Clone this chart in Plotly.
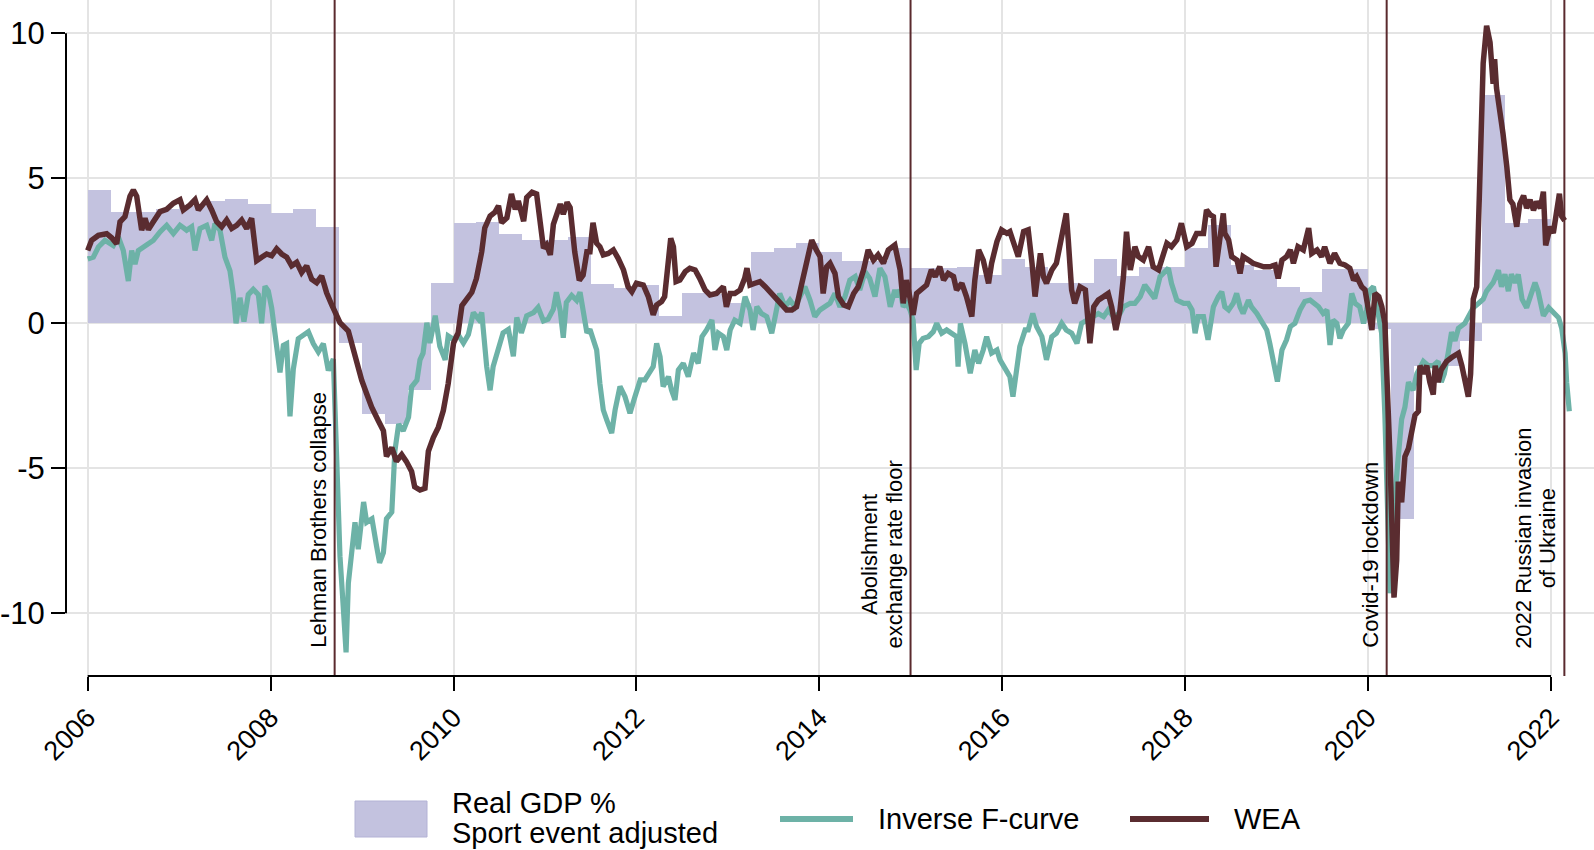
import plotly.graph_objects as go

# ---------------- data ----------------
# Real GDP growth, sport event adjusted (quarterly, first quarter = 2006 Q1)
gdp_first_year = 2006
gdp_growth = [4.60, 3.83, 3.85, 3.95,
              4.05, 4.20, 4.29, 4.10,
              3.79, 3.93, 3.32, -0.68,
              -3.13, -3.48, -2.31, 1.39,
              3.47, 3.50, 3.08, 2.88,
              2.88, 2.96, 1.37, 1.21,
              1.32, 0.26, 1.03, 1.00,
              0.71, 2.45, 2.59, 2.78,
              2.47, 2.15, 2.15, 2.59,
              1.90, 1.90, 1.93, 1.65,
              2.21, 1.93, 1.40, 1.40,
              2.21, 1.63, 1.95, 1.95,
              2.59, 3.39, 2.00, 1.84,
              1.26, 1.09, 1.86, 1.86,
              -0.20, -6.74, -1.46, -1.46,
              -0.60, 7.86, 3.47, 3.61]

# WEA: months elapsed since January 2006, and values
wea_month = [0.0, 0.52, 1.40, 2.49, 3.14, 3.80, 4.24, 4.89, 5.55, 5.99, 6.43, 7.08, 7.52, 7.96, 8.61, 9.49,
             10.36, 11.24, 12.11, 12.55, 13.42, 14.08, 14.52, 15.17, 15.61, 16.27, 16.92, 17.58, 18.23, 18.89,
             19.55, 20.2, 20.86, 21.51, 22.17, 22.82, 23.48, 24.14, 24.79, 25.45, 26.11, 26.76, 27.42, 28.07,
             28.73, 29.39, 30.04, 30.7, 31.35, 32.01, 32.67, 33.1, 34.2, 34.85, 35.3, 35.95, 36.6, 37.26,
             38.13, 38.8, 39.2, 39.9, 40.5, 41.2, 41.8, 42.5, 42.9, 43.6, 44.25, 44.7, 45.35, 46.0, 46.66,
             47.3, 48.0, 48.6, 49.1, 49.7, 50.4, 51.0, 51.7, 52.1, 52.8, 53.4, 53.9, 54.3, 55.0, 55.6, 56.1,
             56.5, 57.2, 57.6, 58.3, 58.9, 59.3, 59.8, 60.2, 60.7, 61.1, 62.0, 62.4, 62.9, 63.3, 63.9, 64.5,
             65.0, 65.5, 65.9, 66.3, 66.78, 67.2, 67.65, 68.3, 68.97, 69.6, 70.3, 70.9, 71.4, 72.0, 72.9,
             73.56, 74.2, 74.65, 75.3, 75.7, 76.2, 76.5, 76.85, 77.2, 77.7, 78.4, 79.0, 79.7, 80.3, 81.0,
             81.65, 82.5, 83.4, 83.8, 84.3, 84.9, 85.6, 86.2, 86.5, 86.9, 87.55, 88.2, 88.9, 89.75, 90.4,
             91.05, 91.7, 92.4, 93.0, 93.7, 94.3, 95.0, 95.6, 96.1, 96.5, 96.96, 97.4, 98.05, 98.5, 99.2,
             99.8, 100.5, 101.1, 101.8, 102.4, 103.1, 103.7, 104.4, 105.05, 105.9, 106.6, 107.0, 107.45,
             107.9, 108.3, 108.76, 109.4, 110.07, 110.7, 111.2, 111.8, 112.3, 112.9, 113.6, 114.0, 114.7,
             115.3, 116.0, 116.4, 116.9, 117.5, 118.2, 118.6, 119.3, 119.9, 120.6, 121.0, 121.5, 122.1,
             122.8, 123.4, 123.9, 124.3, 125.0, 125.4, 125.8, 126.5, 127.1, 127.8, 128.4, 128.66, 129.1,
             129.5, 130.2, 130.9, 131.5, 132.0, 132.6, 133.3, 133.9, 134.35, 134.9, 135.45, 135.9, 136.3,
             136.8, 137.4, 137.85, 138.5, 139.2, 139.8, 140.5, 140.9, 141.6, 142.2, 142.9, 143.5, 144.2,
             144.9, 145.5, 146.4, 146.8, 147.3, 147.7, 148.05, 148.6, 149.0, 149.2, 149.7, 150.1, 150.8,
             151.2, 151.6, 152.3, 152.9, 153.6, 154.3, 155.1, 155.8, 156.2, 156.7, 157.3, 157.8, 158.2,
             158.8, 159.5, 160.2, 160.6, 161.3, 161.9, 162.3, 163.0, 163.6, 164.3, 164.96, 165.6, 166.1,
             166.5, 167.16, 167.6, 168.0, 168.5, 168.9, 169.4, 169.8, 170.2, 170.87, 171.4, 171.75, 171.96,
             172.4, 172.83, 173.3, 173.7, 174.15, 174.6, 174.8, 175.25, 175.7, 176.1, 176.55, 176.8, 177.2,
             177.6, 178.3, 179.0, 179.85, 180.3, 180.7, 181.15, 181.45, 181.8, 182.25, 182.7, 183.1, 183.55,
             184.0, 184.4, 184.6, 184.85, 185.3, 185.7, 186.2, 186.6, 187.0, 187.5, 187.9, 188.4, 188.8,
             189.25, 189.7, 190.1, 190.6, 191.0, 191.3, 191.9, 192.3, 192.8, 193.1, 193.4, 193.8]
wea_value = [2.51, 2.86, 3.03, 3.09, 2.95, 2.74, 3.50, 3.68, 4.38, 4.59, 4.38, 3.21, 3.62, 3.23, 3.50, 3.85,
             3.93, 4.14, 4.26, 3.91, 4.08, 4.26, 3.91, 4.14, 4.26, 3.91, 3.50, 3.33, 3.56, 3.27,
             3.38, 3.56, 3.27, 3.62, 2.16, 2.28, 2.39, 2.33, 2.57, 2.39, 2.28, 1.98, 2.10, 1.75,
             1.98, 1.52, 1.40, 1.63, 1.05, 0.64, 0.29, 0.02, -0.27, -0.91, -1.26, -1.96, -2.43, -2.89,
             -3.36, -3.71, -4.59, -4.29, -4.76, -4.53, -4.76, -5.11, -5.64, -5.75, -5.69, -4.41, -3.94, -3.59, -3.01,
             -2.08, -0.68, -0.33, 0.61, 0.84, 1.07, 1.54, 2.47, 3.29, 3.70, 3.82, 4.05, 3.47, 3.64, 4.46, 3.93,
             4.22, 3.52, 4.34, 4.52, 4.46, 3.64, 2.59, 2.71, 2.36, 3.41, 4.11, 3.76, 4.17, 3.99, 2.47, 1.48,
             1.66, 2.47, 2.47, 3.47, 2.76, 2.64, 2.36, 2.41, 2.53, 2.24, 1.84, 1.26, 1.09, 1.38, 1.32,
             0.92, 0.29, 0.63, 0.75, 0.92, 2.53, 2.93, 2.64, 1.44, 1.49, 1.78, 1.90, 1.84, 1.55, 1.15,
             0.98, 1.03, 1.26, 0.57, 1.03, 1.03, 1.15, 1.55, 1.90, 1.32, 1.38, 1.44, 1.26, 1.03, 0.80,
             0.63, 0.46, 0.46, 0.57, 1.38, 2.18, 2.87, 2.53, 2.30, 1.03, 1.95, 2.07, 1.72, 0.92, 0.63,
             0.57, 1.03, 1.26, 1.84, 2.53, 2.18, 2.36, 2.07, 2.53, 2.70, 1.84, 0.69, 1.49,
             0.92, 0.29, 1.03, 1.15, 1.32, 1.84, 1.61, 1.95, 1.49, 1.72, 1.61, 1.15, 1.38,
             0.92, 0.23, 1.49, 2.53, 2.18, 1.38, 2.07, 2.82, 3.22, 3.10, 3.16, 2.76, 2.30,
             3.16, 3.22, 2.07, 0.92, 2.41, 1.61, 1.38, 1.84, 2.07, 2.99, 3.79, 2.87, 1.15,
             0.69, 1.26, 1.15, -0.69, 0.57, 0.80, 0.92, 1.03, 0.57, -0.23, 0.46, 1.61, 3.16,
             1.84, 2.64, 2.30, 2.18, 2.64, 1.95, 1.84, 2.18, 2.76, 2.64, 2.87, 3.45, 2.64,
             2.76, 3.10, 3.10, 3.91, 3.74, 3.68, 1.95, 2.99, 3.79, 3.10, 2.87, 2.30, 2.18,
             1.72, 2.30, 2.18, 2.07, 2.01, 1.95, 1.95, 2.01, 1.55, 2.18, 2.30, 2.53, 2.07,
             2.64, 2.53, 3.28, 2.41, 2.53, 2.30, 2.64, 2.07, 2.41, 2.07, 2.01, 1.90, 1.49,
             1.61, 1.26, 1.15, 0.46, -0.23, 1.03, 0.92, 0.57, 0.0, -4.60, -9.46, -8.17, -5.46,
             -6.17, -4.60, -4.31, -3.74, -3.17, -3.03, -1.46, -1.74, -1.46, -2.03, -2.46, -1.46, -2.03,
             -1.60, -1.31, -1.17, -1.03, -1.46, -2.03, -2.53, -1.74, 0.83, 1.26, 4.83, 8.97, 10.26,
             9.69, 8.26, 9.11, 8.11, 7.40, 6.54, 5.40, 4.26, 4.11, 3.33, 4.11, 4.40, 3.97,
             4.26, 3.90, 4.19, 3.97, 4.54, 2.69, 3.33, 3.11, 3.83, 4.47, 3.69, 3.54]

# Inverse F-curve: months elapsed since January 2006, and values
fcurve_month = [0.0, 0.74, 1.40, 2.27, 3.36, 4.02, 4.67, 5.33, 5.77, 6.21, 6.64, 7.3, 7.96, 8.61, 9.49,
                10.36, 11.24, 12.11, 12.98, 13.64, 14.08, 14.73, 15.61, 16.27, 16.7, 17.36, 18.01, 18.67,
                19.11, 19.46, 19.98, 20.5, 21.07, 21.73, 22.39, 22.82, 23.26, 23.7, 24.14, 24.57, 25.23,
                25.67, 26.1, 26.54, 26.98, 27.63, 28.51, 28.95, 29.6, 30.26, 30.92, 31.57, 32.23, 32.67,
                33.1, 33.5, 33.9, 34.2, 34.6, 35.07, 35.5, 36.2, 36.6, 37.3, 37.9, 38.3, 38.8, 39.2, 39.9,
                40.3, 40.8, 41.4, 42.1, 42.5, 43.2, 43.6, 44.0, 44.5, 44.9, 45.6, 46.2, 46.9, 47.3, 48.0,
                48.6, 49.3, 49.95, 50.6, 51.3, 51.7, 52.35, 52.8, 53.2, 53.9, 54.5, 55.2, 55.85, 56.3, 56.9,
                57.6, 58.5, 59.1, 59.8, 60.4, 61.1, 61.5, 62.0, 62.4, 62.8, 63.5, 64.15, 64.6, 65.0, 65.5,
                65.9, 66.3, 66.78, 67.2, 67.65, 68.1, 68.75, 69.2, 69.84, 70.5, 71.15, 71.8, 72.5, 73.1,
                73.8, 74.2, 74.65, 75.1, 75.5, 76.2, 76.6, 77.06, 77.5, 78.15, 78.8, 79.5, 80.1, 80.6,
                81.2, 81.9, 82.3, 82.75, 83.4, 83.85, 84.3, 84.9, 85.6, 86.25, 86.9, 87.3, 87.8, 88.4,
                89.1, 89.75, 90.2, 90.8, 91.5, 92.15, 92.8, 93.5, 94.1, 94.77, 95.4, 96.07, 96.7, 97.4,
                98.05, 98.7, 99.36, 100.0, 100.7, 101.3, 102.0, 102.6, 103.3, 103.95, 104.6, 105.3, 105.9,
                106.1, 106.6, 107.0, 107.45, 107.9, 108.3, 108.7, 109.1, 109.6, 110.3, 110.95, 111.4,
                112.05, 112.7, 113.6, 114.0, 114.2, 114.5, 115.1, 115.8, 116.4, 116.9, 117.5, 117.95,
                118.6, 119.3, 119.7, 120.4, 121.0, 121.4, 121.9, 122.3, 123.0, 123.4, 124.0, 124.5,
                125.2, 125.8, 126.5, 127.1, 127.8, 128.4, 129.1, 129.8, 130.4, 131.1, 132.0, 132.6,
                133.3, 133.9, 134.6, 135.45, 135.9, 136.8, 137.4, 138.1, 138.7, 139.4, 140.0, 140.7,
                141.1, 141.8, 142.2, 142.9, 143.8, 144.4, 144.9, 145.3, 145.7, 146.4, 147.0, 147.7,
                148.35, 148.8, 149.2, 149.7, 150.3, 150.75, 151.2, 151.6, 152.3, 152.7, 153.4, 154.0,
                154.7, 155.1, 155.6, 156.1, 156.7, 157.3, 157.8, 158.4, 159.07, 159.7, 160.4, 161.0,
                161.5, 162.1, 162.6, 163.0, 163.4, 163.9, 164.3, 164.75, 165.4, 165.85, 166.3, 166.9,
                167.4, 167.8, 168.25, 168.7, 169.1, 169.77, 170.2, 170.65, 170.87, 171.3, 171.5, 171.96,
                172.4, 172.83, 173.3, 173.9, 174.4, 175.25, 175.9, 176.55, 177.2, 177.6, 178.0, 178.5,
                178.95, 179.4, 179.85, 180.7, 181.8, 182.5, 183.1, 183.55, 184.4, 185.1, 185.5, 185.95,
                186.4, 186.8, 187.3, 187.7, 188.2, 188.8, 189.5, 189.9, 190.3, 191.0, 191.7, 192.3,
                193.0, 193.4, 193.85, 194.05, 194.4]
fcurve_value = [2.22, 2.28, 2.63, 2.86, 2.68, 2.98, 2.51, 1.46, 2.51, 2.04, 2.51, 2.63, 2.74, 2.86, 3.15,
                3.38, 3.09, 3.38, 3.21, 3.33, 2.51, 3.27, 3.38, 2.86, 3.44, 3.21, 2.28, 1.81,
                0.99, 0.0, 0.88, 0.06, 0.99, 1.17, 0.99, 0.0, 1.28, 1.11, 0.53, -0.29, -1.69,
                -0.76, -0.70, -3.21, -1.58, -0.53, -0.35, -0.29, -0.70, -0.99, -0.70, -1.63, -1.23, -5.23,
                -8.03, -9.66, -11.35, -8.96, -7.79, -6.86, -7.79, -6.16, -6.86, -6.74, -7.68, -8.26, -7.91, -6.74, -6.51,
                -4.41, -3.48, -3.71, -3.24, -2.19, -1.96, -1.26, -1.03, 0.02, -0.68, 0.26, -0.79, -1.26, -0.44, -0.56,
                -0.39, -0.68, -0.39, 0.37, 0.14, 0.37, -1.49, -2.31, -1.49, -0.79, -0.33, -0.21, -1.14, 0.20, -0.33,
                0.26, 0.37, 0.55, 0.08, 0.14, 0.49, 1.07, 0.43, -0.50, 0.72, 0.96, 0.79, 1.07, 0.37, -0.33,
                -0.21, -0.56, -0.92, -2.07, -2.99, -3.33, -3.79, -2.99, -2.18, -2.53, -3.10, -2.53, -1.95, -1.95,
                -1.67, -1.49, -0.69, -1.15, -2.18, -1.84, -2.30, -2.64, -1.61, -1.38, -1.84, -1.03, -1.38, -0.46,
                -0.23, 0.11, -0.92, -0.34, -0.46, -0.92, -0.23, 0.11, 0.0, 0.92, 0.46, -0.23, 0.57, 0.34,
                0.23, -0.34, 0.23, 1.03, 0.57, 0.80, 0.57, 0.92, 1.26, 0.80, 0.23, 0.46, 0.57, 0.69,
                1.03, 0.57, 0.92, 1.49, 1.61, 1.15, 1.78, 1.55, 0.92, 1.90, 1.61, 0.57, 1.15,
                0.92, 1.15, 0.57, 0.69, 0.46, 0.11, -1.61, -0.69, -0.52, -0.46, -0.29, 0.0,
                -0.34, -0.23, -0.40, -0.46, -1.49, 0.0, -0.69, -1.72, -0.92, -1.38, -0.92, -0.46,
                -1.03, -0.92, -1.26, -1.61, -1.84, -2.53, -1.49, -0.80, -0.23, -0.23, 0.34, -0.11,
                -0.46, -1.26, -0.46, -0.34, 0.0, -0.23, -0.34, -0.69, 0.0, 0.11, 0.23, 0.34,
                0.23, 0.46, 0.23, 0.34, 0.57, 0.69, 0.69, 0.92, 1.32, 1.03, 0.86, 1.61,
                1.72, 1.90, 1.38, 0.80, 0.69, 0.69, 0.46, -0.34, 0.23, 0.23, -0.57, 0.57,
                0.92, 1.09, 0.57, 0.46, 0.69, 1.03, 0.57, 0.34, 0.80, 0.57, 0.34, 0.11,
                -0.23, -0.69, -1.26, -2.01, -0.92, -0.57, -0.11, 0.0, 0.46, 0.75, 0.80, 0.69,
                0.57, 0.34, 0.46, -0.75, 0.11, 0.0, -0.52, -0.23, 0.0, 1.03, 0.69, 0.57,
                0.0, 0.46, 1.15, 1.26, 0.57, -0.34, -3.17, -7.46, -9.31, -7.46, -6.03, -4.60,
                -3.31, -2.89, -2.03, -2.31, -1.74, -1.31, -1.46, -1.46, -1.31, -2.03, -1.74, -1.03,
                -0.31, -0.60, -0.17, 0.0, 0.54, 0.69, 0.83, 1.11, 1.40, 1.83, 1.26, 1.69,
                1.11, 1.69, 1.40, 1.69, 0.83, 0.54, 1.11, 1.40, 1.11, 0.26, 0.54, 0.40,
                0.19, -0.17, -1.03, -2.03, -3.03]

# Event markers (decimal years) and their label lines
event_year = [2008.70, 2014.997, 2020.203, 2022.146]
event_lines = [["Lehman Brothers collapse"],
               ["Abolishment", "exchange rate floor"],
               ["Covid-19 lockdown"],
               ["2022 Russian invasion", "of Ukraine"]]

x_tick_years = [2006, 2008, 2010, 2012, 2014, 2016, 2018, 2020, 2022]
y_tick_values = [-10, -5, 0, 5, 10]
y_tick_labels = ["-10", "-5", "0", "5", "10"]

legend_labels = ["Real GDP %", "Sport event adjusted", "Inverse F-curve", "WEA"]

# ---------------- styling ----------------
W, H = 1594, 850
M_L, M_R, M_T, M_B = 66, 0, 0, 174
PW, PH = W - M_L - M_R, H - M_T - M_B
FONT = "Liberation Sans, Arial, Helvetica, sans-serif"
BAR_COLOR = "#c3c2df"
TEAL = "#6db2a7"
MAROON = "#5a2c30"
EVENT_COLOR = "#5a2a2e"
GRID = "#e4e4e4"


def px_x(px):
    return (px - M_L) / PW


def px_y(py):
    return (H - M_B - py) / PH


gdp_x = [gdp_first_year + 0.25 * i + 0.125 for i in range(len(gdp_growth))]
wea_x = [gdp_first_year + m / 12.0 for m in wea_month]
fc_x = [gdp_first_year + m / 12.0 for m in fcurve_month]

fig = go.Figure()
fig.add_trace(go.Bar(x=gdp_x, y=gdp_growth, width=0.25,
                     marker=dict(color=BAR_COLOR, line=dict(width=0)),
                     showlegend=False, hoverinfo="skip"))
fig.add_trace(go.Scatter(x=fc_x, y=fcurve_value, mode="lines",
                         line=dict(color=TEAL, width=5.2), showlegend=False))
fig.add_trace(go.Scatter(x=wea_x, y=wea_value, mode="lines",
                         line=dict(color=MAROON, width=5.5), showlegend=False))

shapes = []
# event lines
for ex in event_year:
    shapes.append(dict(type="line", xref="x", yref="paper", x0=ex, x1=ex, y0=0, y1=1,
                       line=dict(color=EVENT_COLOR, width=2), layer="above"))
# axis lines (only span the tick range, Stata style)
shapes.append(dict(type="line", xref="x", yref="paper", x0=x_tick_years[0], x1=x_tick_years[-1],
                   y0=0, y1=0, line=dict(color="black", width=2)))
shapes.append(dict(type="line", xref="paper", yref="y", x0=0, x1=0,
                   y0=y_tick_values[0], y1=y_tick_values[-1], line=dict(color="black", width=2)))

# manual legend
shapes.append(dict(type="rect", xref="paper", yref="paper",
                   x0=px_x(355), x1=px_x(427), y0=px_y(837), y1=px_y(801),
                   fillcolor=BAR_COLOR, line=dict(color="#b3b2d5", width=1)))
shapes.append(dict(type="line", xref="paper", yref="paper",
                   x0=px_x(780), x1=px_x(853), y0=px_y(819), y1=px_y(819),
                   line=dict(color=TEAL, width=6)))
shapes.append(dict(type="line", xref="paper", yref="paper",
                   x0=px_x(1130), x1=px_x(1209), y0=px_y(819), y1=px_y(819),
                   line=dict(color=MAROON, width=6)))

annotations = []
leg_font = dict(family=FONT, size=29, color="black")
for text, lx, ly in [(legend_labels[0], 450, 803), (legend_labels[1], 450, 833),
                     (legend_labels[2], 876, 819), (legend_labels[3], 1232, 819)]:
    annotations.append(dict(text=text, xref="paper", yref="paper", x=px_x(lx), y=px_y(ly),
                            xanchor="left", yanchor="middle", showarrow=False, font=leg_font))

# event labels: rotated text to the left of each line
ev_font = dict(family=FONT, size=22, color="black")
ev_center_px = [520, 555, 555, 538]
for ex, lines, cy in zip(event_year, event_lines, ev_center_px):
    n = len(lines)
    for i, t in enumerate(lines):
        shift = -17 - 24.5 * (n - 1 - i)
        annotations.append(dict(text=t, x=ex, xref="x", y=px_y(cy), yref="paper",
                                xshift=shift, textangle=-90, xanchor="center", yanchor="middle",
                                showarrow=False, font=ev_font))

fig.update_layout(
    width=W, height=H,
    margin=dict(l=M_L, r=M_R, t=M_T, b=M_B, autoexpand=False),
    paper_bgcolor="white", plot_bgcolor="white",
    bargap=0, showlegend=False,
    shapes=shapes, annotations=annotations,
    font=dict(family=FONT, color="black"),
    xaxis=dict(range=[2005.7627, 2022.470], tickmode="array", tickvals=x_tick_years,
               ticktext=[str(y) for y in x_tick_years], tickangle=-45,
               ticks="outside", ticklen=14, tickwidth=2, tickcolor="black",
               showgrid=True, gridcolor=GRID, gridwidth=1.5, zeroline=False, showline=False,
               tickfont=dict(family=FONT, size=27, color="black")),
    yaxis=dict(range=[-12.162, 11.148], tickmode="array", tickvals=y_tick_values,
               ticktext=y_tick_labels, ticks="outside", ticklen=14, tickwidth=2, tickcolor="black",
               showgrid=True, gridcolor=GRID, gridwidth=1.5, zeroline=False, showline=False,
               tickfont=dict(family=FONT, size=31, color="black")),
)

fig.write_html("out.html",
               config={"displayModeBar": False},
               post_script="document.body.style.margin='0px';document.body.style.padding='0px';")
